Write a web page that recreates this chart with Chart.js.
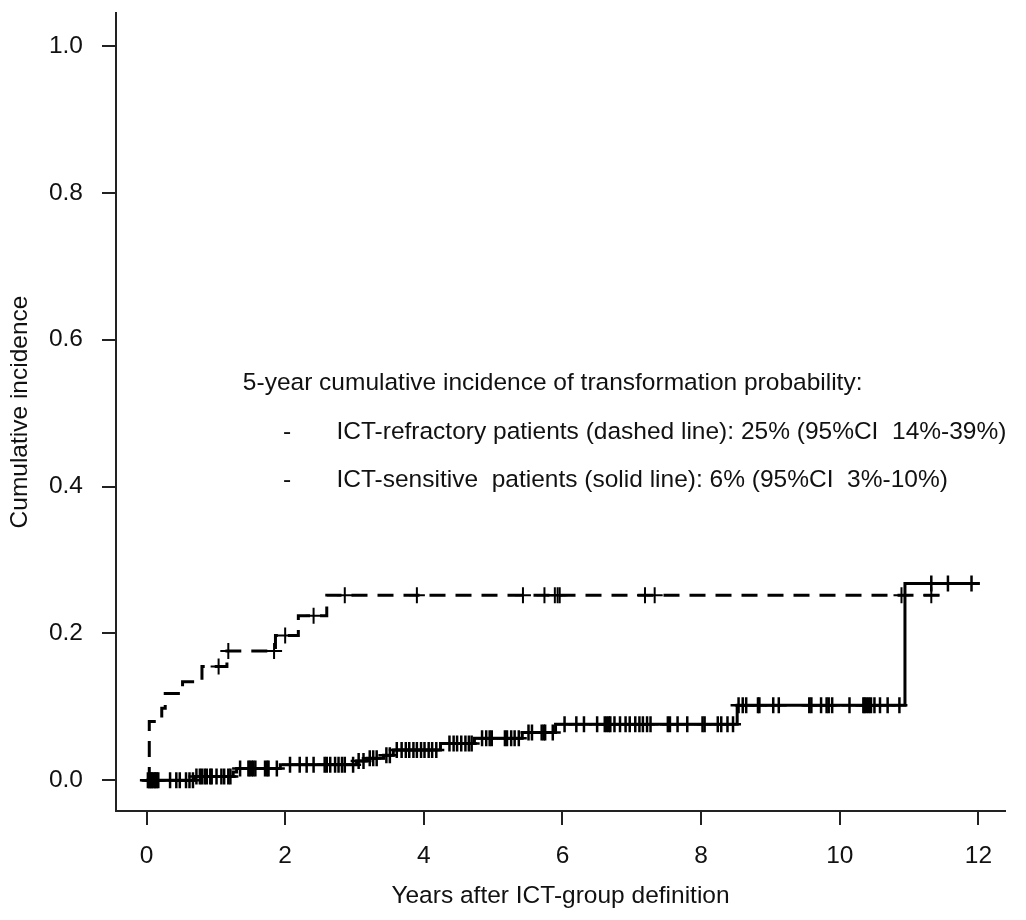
<!DOCTYPE html>
<html>
<head>
<meta charset="utf-8">
<title>Cumulative incidence of transformation</title>
<script src="https://cdn.jsdelivr.net/npm/chart.js@4.4.1/dist/chart.umd.min.js"></script>
<style>
  html, body { margin: 0; padding: 0; background: #fff; }
  #wrap { width: 1026px; height: 920px; }
</style>
</head>
<body>
<div id="wrap"><canvas id="cifChart" width="1026" height="920"></canvas></div>
<script>
// ICT-refractory patients (dashed line): event times and cumulative incidence after each step
const refrTime = [0, 0.04, 0.22, 0.27, 0.52, 0.80, 1.16, 1.86, 2.19, 2.60, 11.44];
const refrCI   = [0, 0.080, 0.098, 0.118, 0.134, 0.155, 0.176, 0.197, 0.224, 0.252, 0.252];
const refrCensor = [1.04, 1.18, 1.84, 2.00, 2.41, 2.86, 3.90, 5.43, 5.74, 5.89, 5.93, 5.96,
                    7.19, 7.33, 10.89, 11.32];

// ICT-sensitive patients (solid line)
const sensTime = [0, 0.70, 1.25, 1.30, 1.93, 3.03, 3.18, 3.42, 3.56, 4.24, 4.73, 5.42, 5.90, 8.52, 10.94, 12.02];
const sensCI   = [0, 0.005, 0.011, 0.016, 0.021, 0.026, 0.030, 0.034, 0.041, 0.050, 0.057, 0.065, 0.076, 0.102, 0.268, 0.268];
const sensCensor = [0.02, 0.04, 0.05, 0.07, 0.08, 0.10, 0.12, 0.13, 0.15, 0.17, 0.34, 0.43, 0.48, 0.57, 0.62, 0.67,
                    0.72, 0.77, 0.80, 0.84, 0.87, 0.92, 0.94, 1.01, 1.08, 1.12, 1.18, 1.21,
                    1.35, 1.47, 1.49, 1.52, 1.54, 1.57, 1.71, 1.74, 1.76, 1.88,
                    2.07, 2.21, 2.31, 2.41, 2.57, 2.60, 2.65, 2.72, 2.77, 2.82, 2.86, 2.98,
                    3.06, 3.13, 3.22, 3.27, 3.32, 3.46, 3.51, 3.61, 3.68, 3.74, 3.79, 3.85,
                    3.90, 3.96, 4.01, 4.07, 4.12, 4.18, 4.37, 4.43, 4.48, 4.54, 4.60, 4.65,
                    4.69, 4.84, 4.90, 4.95, 4.98, 5.17, 5.20, 5.26, 5.31, 5.37, 5.51, 5.56,
                    5.70, 5.73, 5.75, 5.86, 6.03, 6.20, 6.31, 6.50, 6.61, 6.64, 6.67, 6.69,
                    6.75, 6.83, 6.91, 6.97, 7.05, 7.11, 7.16, 7.22, 7.27, 7.52, 7.55, 7.66,
                    7.80, 8.02, 8.05, 8.24, 8.29, 8.38, 8.46, 8.54, 8.60, 8.65, 8.82, 8.84,
                    9.04, 9.12, 9.56, 9.59, 9.73, 9.81, 9.84, 9.89, 10.14, 10.34, 10.36,
                    10.39, 10.42, 10.45, 10.50, 10.58, 10.69, 10.86, 11.32, 11.56, 11.90];

const xTicks = [0, 2, 4, 6, 8, 10, 12];
const yTicks = [0, 0.2, 0.4, 0.6, 0.8, 1.0];

const noteLines = [
    "5-year cumulative incidence of transformation probability:",
    "ICT-refractory patients (dashed line): 25% (95%CI  14%-39%)",
    "ICT-sensitive  patients (solid line): 6% (95%CI  3%-10%)"
];

const FONT = "'Liberation Sans', Arial, sans-serif";
const INK = "#111";

// value of a step curve at time t (the mark sits on the curve)
function stepValue(times, vals, t) {
    let v = vals[0];
    for (let i = 0; i < times.length; i++) {
        if (times[i] <= t) v = vals[i];
    }
    return v;
}

const toPoints = (xs, ys) => xs.map((x, i) => ({ x: x, y: ys[i] }));
const censorPoints = (cs, times, vals) => cs.map(t => ({ x: t, y: stepValue(times, vals, t) }));

// annotation text block, placed in data units
const notePlugin = {
    id: "notes",
    afterDraw(chart) {
        const { ctx, scales: { x, y } } = chart;
        ctx.save();
        ctx.fillStyle = INK;
        ctx.font = "24.5px " + FONT;
        ctx.textBaseline = "middle";
        ctx.textAlign = "left";
        ctx.fillText(noteLines[0], x.getPixelForValue(1.39), y.getPixelForValue(0.540));
        ctx.fillText("-", x.getPixelForValue(1.97), y.getPixelForValue(0.474));
        ctx.fillText(noteLines[1], x.getPixelForValue(2.74), y.getPixelForValue(0.474));
        ctx.fillText("-", x.getPixelForValue(1.97), y.getPixelForValue(0.409));
        ctx.fillText(noteLines[2], x.getPixelForValue(2.74), y.getPixelForValue(0.409));
        ctx.restore();
    }
};

const ctx = document.getElementById("cifChart").getContext("2d");
const cifChart = new Chart(ctx, {
    type: "scatter",
    data: {
        datasets: [
            {
                label: "ICT-refractory",
                data: toPoints(refrTime, refrCI),
                showLine: true,
                stepped: true,
                borderColor: "#000",
                borderWidth: 3,
                borderDash: [16, 10],
                pointRadius: 0,
                fill: false
            },
            {
                label: "ICT-refractory censored",
                data: censorPoints(refrCensor, refrTime, refrCI),
                showLine: false,
                pointStyle: "cross",
                pointRadius: 8,
                pointBorderWidth: 2,
                pointBorderColor: "#000"
            },
            {
                label: "ICT-sensitive",
                data: toPoints(sensTime, sensCI),
                showLine: true,
                stepped: true,
                borderColor: "#000",
                borderWidth: 3,
                pointRadius: 0,
                fill: false
            },
            {
                label: "ICT-sensitive censored",
                data: censorPoints(sensCensor, sensTime, sensCI),
                showLine: false,
                pointStyle: "cross",
                pointRadius: 8,
                pointBorderWidth: 2.5,
                pointBorderColor: "#000"
            }
        ]
    },
    options: {
        responsive: false,
        animation: false,
        events: [],
        layout: { padding: { top: 13, right: 21, left: 0, bottom: 0 } },
        plugins: {
            legend: { display: false },
            tooltip: { enabled: false }
        },
        scales: {
            x: {
                type: "linear",
                min: -0.44,
                max: 12.383,
                afterFit(scale) {
                    scale.height = 109;
                    scale.paddingLeft = 0;
                    scale.paddingRight = 0;
                },
                afterBuildTicks(scale) { scale.ticks = xTicks.map(v => ({ value: v })); },
                grid: { drawOnChartArea: false, drawTicks: true, tickLength: 14, color: "#222", lineWidth: 2 },
                border: { display: true, color: "#222", width: 2 },
                ticks: {
                    padding: 17,
                    color: INK,
                    maxRotation: 0,
                    font: { family: FONT, size: 24.5 },
                    callback: v => String(v)
                },
                title: {
                    display: true,
                    text: "Years after ICT-group definition",
                    color: INK,
                    padding: { top: 0, bottom: 9 },
                    font: { family: FONT, size: 24.5 }
                }
            },
            y: {
                type: "linear",
                min: -0.042,
                max: 1.045,
                afterFit(scale) {
                    scale.width = 116;
                    scale.paddingTop = 0;
                    scale.paddingBottom = 0;
                },
                afterBuildTicks(scale) { scale.ticks = yTicks.map(v => ({ value: v })); },
                grid: { drawOnChartArea: false, drawTicks: true, tickLength: 14, color: "#222", lineWidth: 2 },
                border: { display: true, color: "#222", width: 2 },
                ticks: {
                    padding: 19,
                    color: INK,
                    font: { family: FONT, size: 24.5 },
                    callback: v => Number(v).toFixed(1)
                },
                title: {
                    display: true,
                    text: "Cumulative incidence",
                    color: INK,
                    padding: { top: 6, bottom: 0 },
                    font: { family: FONT, size: 24.5 }
                }
            }
        }
    },
    plugins: [notePlugin]
});
</script>
</body>
</html>
